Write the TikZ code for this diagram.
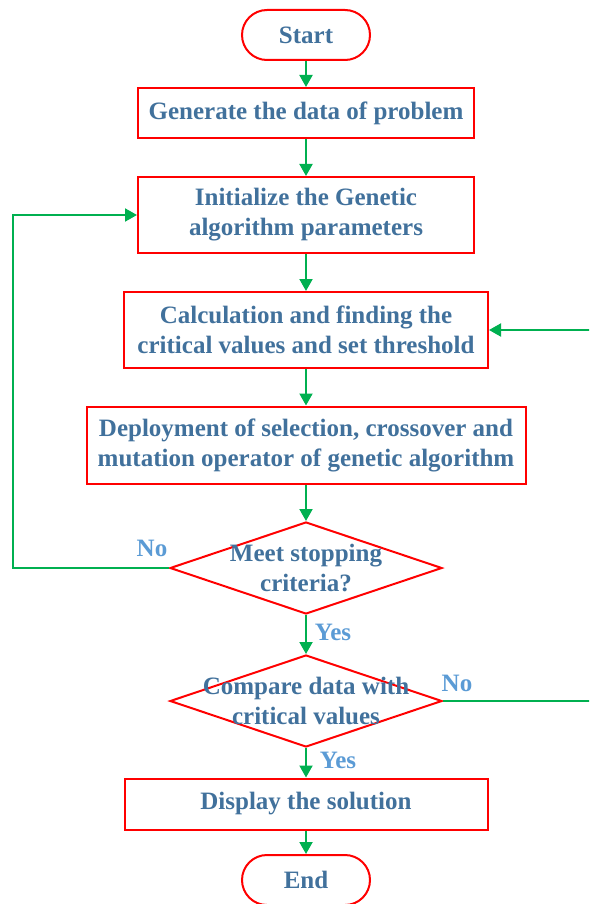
\documentclass[tikz,border=0pt]{standalone}
\usepackage{fontspec}
\setmainfont{Liberation Serif}
\usetikzlibrary{shapes.geometric,arrows.meta}
\definecolor{txtblue}{RGB}{65,113,156}
\definecolor{lblblue}{RGB}{91,155,213}
\definecolor{arrgreen}{RGB}{0,176,80}
\definecolor{boxred}{RGB}{255,0,0}
\begin{document}
\begin{tikzpicture}[x=1pt,y=-1pt,
  every node/.style={font=\bfseries\fontsize{25}{30}\selectfont, text=txtblue},
  box/.style={draw=boxred, line width=2pt, fill=white, align=center, inner sep=0pt},
  term/.style={box, rounded corners=25pt, minimum width=128pt, minimum height=50pt},
  dia/.style={draw=boxred, line width=2pt, shape=diamond, minimum width=272pt, minimum height=92pt, inner sep=0pt},
  dtxt/.style={align=center, inner sep=0pt},
  lbl/.style={text=lblblue},
  arr/.style={draw=arrgreen, line width=2pt, -{Triangle[length=12pt,width=13pt]}},
]
\useasboundingbox (0,0) rectangle (589,904);
\clip (0,0) rectangle (589,904);

\node[term] (start) at (306,35) {Start};
\node[box, minimum width=336pt, minimum height=50pt] (gen) at (306,113) {Generate the data of problem};
\node[box, minimum width=336pt, minimum height=76pt] (init) at (306,215) {Initialize the Genetic\\algorithm parameters};
\node[box, minimum width=364pt, minimum height=76pt] (calc) at (306,330) {Calculation and finding the\\critical values and set threshold};
\node[box, minimum width=439pt, minimum height=77pt] (dep) at (306,445) {Deployment of selection, crossover and\\mutation operator of genetic algorithm};
\node[dia, label={[dtxt]center:{Meet stopping\\criteria?}}] (d1) at (306,568) {};
\node[dia, label={[dtxt]center:{Compare data with\\critical values}}] (d2) at (306,701) {};
\node[box, minimum width=363pt, minimum height=51pt] (disp) at (306,804) {Display the solution};
\node[term] (end) at (306,880) {End};

\node[lbl] (no1) at (152,548) {No};
\node[lbl] (yes1) at (333,632) {Yes};
\node[lbl] (no2) at (457,683) {No};
\node[lbl] (yes2) at (338,760) {Yes};

\coordinate (lx) at (13,568);
\coordinate (rx) at (600,701);

\draw[arr] (start) -- (gen);
\draw[arr] (gen) -- (init);
\draw[arr] (init) -- (calc);
\draw[arr] (calc) -- (dep);
\draw[arr] (dep) -- (d1.north);
\draw[arr] (d1.south) -- (d2.north);
\draw[arr] (d2.south) -- (disp);
\draw[arr] (disp) -- (end);
\draw[arr] (d1.west) -- (lx) |- (init.west);
\draw[arr] (d2.east) -- (rx) |- (calc.east);
\end{tikzpicture}
\end{document}
